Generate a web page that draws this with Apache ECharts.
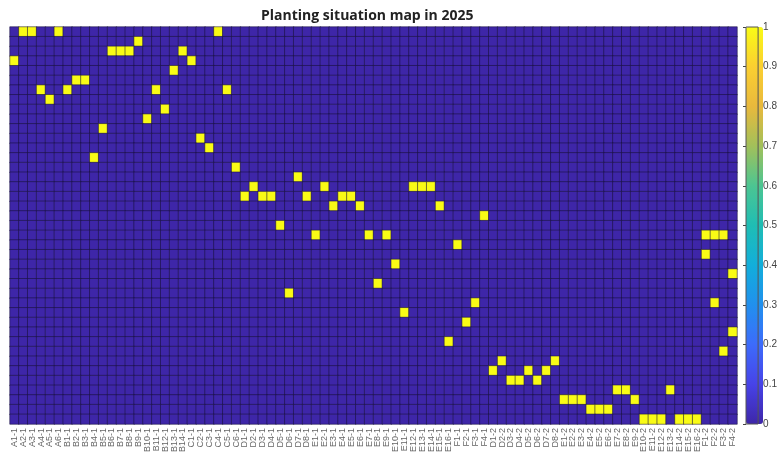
<!DOCTYPE html>
<html>
<head>
<meta charset="utf-8">
<script src="https://cdn.jsdelivr.net/npm/echarts@6/dist/echarts.min.js"></script>
<style>html,body{margin:0;padding:0;background:#fff;}#c{width:780px;height:459px;}</style>
</head>
<body>
<div id="c"></div>
<script>
// Plot labels (season 1 then season 2)
const season1Plots = ['A1','A2','A3','A4','A5','A6',
  'B1','B2','B3','B4','B5','B6','B7','B8','B9','B10','B11','B12','B13','B14',
  'C1','C2','C3','C4','C5','C6',
  'D1','D2','D3','D4','D5','D6','D7','D8',
  'E1','E2','E3','E4','E5','E6','E7','E8','E9','E10','E11','E12','E13','E14','E15','E16',
  'F1','F2','F3','F4'];
const season2Plots = ['D1','D2','D3','D4','D5','D6','D7','D8',
  'E1','E2','E3','E4','E5','E6','E7','E8','E9','E10','E11','E12','E13','E14','E15','E16',
  'F1','F2','F3','F4'];
const xLabels = season1Plots.map(p => p + '-1').concat(season2Plots.map(p => p + '-2'));
// Crop rows (41 crops, top to bottom)
const cropRows = Array.from({length: 41}, (_, i) => String(i + 1));
// For each crop row, the column indices (into xLabels) where the crop is planted (value 1)
const plantedCols = [
  [1,2,5,23],
  [14],
  [11,12,13,19],
  [0,20],
  [18],
  [7,8],
  [3,6,16,24],
  [4],
  [17],
  [15],
  [10],
  [21],
  [22],
  [9],
  [25],
  [32],
  [27,35,45,46,47],
  [26,28,29,33,37,38],
  [36,39,48],
  [53],
  [30],
  [34,40,42,78,79,80],
  [50],
  [78],
  [43],
  [81],
  [41],
  [31],
  [52,79],
  [44],
  [51],
  [81],
  [49],
  [80],
  [55,61],
  [54,58,60],
  [56,57,59],
  [68,69,74],
  [62,63,64,70],
  [65,66,67],
  [71,72,73,75,76,77]
];
const colorbarTicks = [0,0.1,0.2,0.3,0.4,0.5,0.6,0.7,0.8,0.9,1];
const parula = ['#3e26a8','#4743e8','#3d6bfb','#2190ee','#12aedb','#1fbdb4','#4cc592','#a2c05a','#e9b93c','#fbcf31','#f9fb15'];

const data = [];
for (let r = 0; r < cropRows.length; r++) {
  for (let c = 0; c < xLabels.length; c++) {
    data.push([c, r, plantedCols[r].indexOf(c) >= 0 ? 1 : 0]);
  }
}

const chart = echarts.init(document.getElementById('c'), null, {renderer: 'canvas'});
chart.setOption({
  backgroundColor: '#ffffff',
  animation: false,
  title: {
    text: 'Planting situation map in 2025',
    left: 256, top: 4,
    textStyle: {fontSize: 14, fontWeight: 'bold', color: '#222', fontFamily: 'Open Sans, sans-serif'}
  },
  grid: [
    {left: 10, top: 27, width: 727, height: 397, containLabel: false},
    {left: 746, top: 27, width: 17, height: 397, containLabel: false, show: true, z: 10,
     backgroundColor: 'transparent', borderColor: '#555', borderWidth: 1}
  ],
  xAxis: [
    {
      type: 'category', data: xLabels, gridIndex: 0,
      axisLine: {show: false}, axisTick: {show: false}, splitLine: {show: false},
      axisLabel: {interval: 0, rotate: 90, fontSize: 9, color: '#666', margin: 4, fontFamily: 'Liberation Sans, Arial, sans-serif'}
    },
    {type: 'value', gridIndex: 1, show: false, min: 0, max: 1}
  ],
  yAxis: [
    {
      type: 'category', data: cropRows, inverse: true, gridIndex: 0,
      axisLine: {show: false}, axisTick: {show: false}, axisLabel: {show: false}, splitLine: {show: false}
    },
    {
      type: 'value', gridIndex: 1, min: 0, max: 1, interval: 0.1, position: 'right',
      axisLine: {show: false},
      axisTick: {show: true, inside: true, length: 3, lineStyle: {color: '#444'}},
      axisLabel: {fontSize: 10, color: '#444', margin: 5, formatter: v => String(Math.round(v * 10) / 10)},
      splitLine: {show: false}
    }
  ],
  visualMap: {
    type: 'continuous', min: 0, max: 1, calculable: false, seriesIndex: 0,
    orient: 'vertical', left: 746, top: 27, itemWidth: 17, itemHeight: 397,
    padding: 0, borderWidth: 0, text: null,
    inRange: {color: parula}
  },
  series: [{
    type: 'heatmap', xAxisIndex: 0, yAxisIndex: 0, data: data,
    itemStyle: {borderColor: 'rgba(25,18,60,0.7)', borderWidth: 0.8},
    emphasis: {disabled: true}
  }]
});
</script>
</body>
</html>
